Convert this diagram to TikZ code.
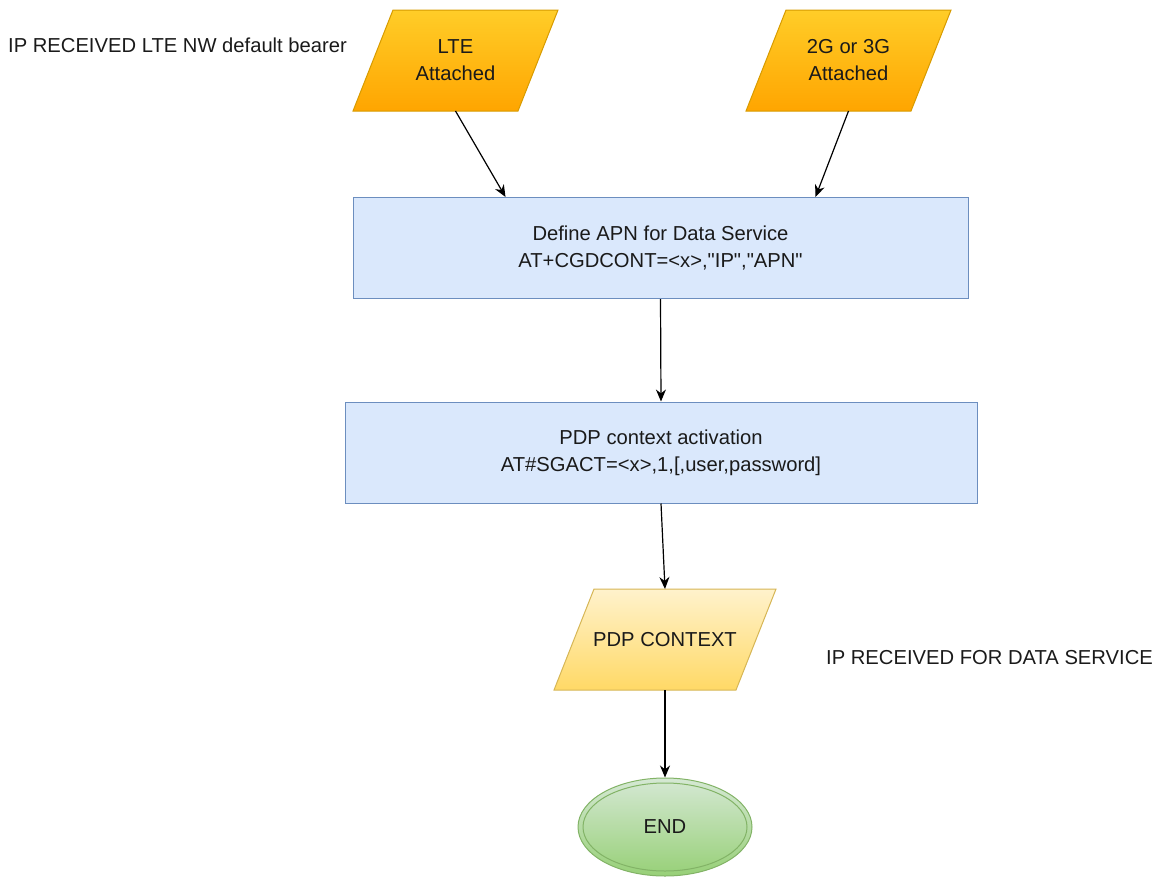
\documentclass[tikz,border=0pt]{standalone}
\usepackage{fontspec}
\setmainfont{Liberation Sans}
\usetikzlibrary{arrows.meta,positioning,shapes.geometric,calc,backgrounds}
\definecolor{orangetop}{HTML}{FFCD28}
\definecolor{orangebot}{HTML}{FFA500}
\definecolor{orangeline}{HTML}{D79B00}
\definecolor{bluefill}{HTML}{DAE8FC}
\definecolor{blueline}{HTML}{6C8EBF}
\definecolor{yellowtop}{HTML}{FFF2CC}
\definecolor{yellowbot}{HTML}{FFD966}
\definecolor{yellowline}{HTML}{D6B656}
\definecolor{greentop}{HTML}{D5E8D4}
\definecolor{greenbot}{HTML}{97D077}
\definecolor{greenline}{HTML}{82B366}
\definecolor{ink}{HTML}{1A1A1A}
\tikzset{
  para/.style={rectangle, minimum height=101pt, outer sep=0pt, align=center,
               font=\lbl, text=ink},
  attachfill/.style={top color=orangetop, bottom color=orangebot,
                     draw=orangeline, line width=1pt},
  outputfill/.style={top color=yellowtop, bottom color=yellowbot,
                     draw=yellowline, line width=1pt},
  cmd/.style={rectangle, draw=blueline, fill=bluefill, line width=1pt,
              align=center, font=\lbl, text=ink, minimum height=101pt},
  stop/.style={ellipse, draw=greenline, top color=greentop, bottom color=greenbot,
               line width=1pt, minimum width=174pt, minimum height=98pt,
               font=\lbl, text=ink},
  note/.style={font=\lbl, text=ink, anchor=west, inner sep=0pt},
  fl/.style={-{Stealth[length=12pt,width=10pt]}, draw=black, line width=1.2pt}
}
\newcommand{\lbl}{\fontsize{20.2}{27}\selectfont}
\newcommand{\qt}{\textquotedbl}
% slanted outline behind a node
\newcommand{\skewbox}[2]{%
  \begin{scope}[on background layer]
    \path[#2] ([xshift=40pt]#1.north west) -- (#1.north east)
      -- ([xshift=-40pt]#1.south east) -- (#1.south west) -- cycle;
  \end{scope}}

\begin{document}
\begin{tikzpicture}[x=1pt,y=-1pt]
  \useasboundingbox (0,0) rectangle (1153,878);
  \node[para, minimum width=205pt] (lte) at (455.5,60.5) {LTE\\Attached};
  \node[para, minimum width=205pt] (gsm) at (848.5,60.5) {2G or 3G\\Attached};
  \skewbox{lte}{attachfill}
  \skewbox{gsm}{attachfill}
  \node[cmd, minimum width=615pt] (apn) at (660.5,248) {Define APN for Data Service\\AT+CGDCONT=<x>,\qt IP\qt,\qt APN\qt};
  \node[cmd, minimum width=632pt] (act) at (661,452.5) {PDP context activation\\AT\#SGACT=<x>,1,[,user,password]};
  \node[para, minimum width=222pt] (ctx) at (665,639.5) {PDP CONTEXT};
  \skewbox{ctx}{outputfill}
  \node[stop] (fin) at (665,827) {END};
  \draw[greenline, line width=1pt] (fin.center) ellipse (82 and 44);

  \node[note] (lbllte) at (8,45) {IP RECEIVED LTE NW default bearer};
  \node[note] (lblip) at (826,658) {IP RECEIVED FOR DATA SERVICE};

  \draw[fl] (lte.south) -- ([xshift=-155pt]apn.north);
  \draw[fl] (gsm.south) -- ([xshift=155pt]apn.north);
  \foreach \a/\b in {apn/act,act/ctx,ctx/fin}
     \draw[fl] (\a.south) -- (\b.north);
\end{tikzpicture}
\end{document}
